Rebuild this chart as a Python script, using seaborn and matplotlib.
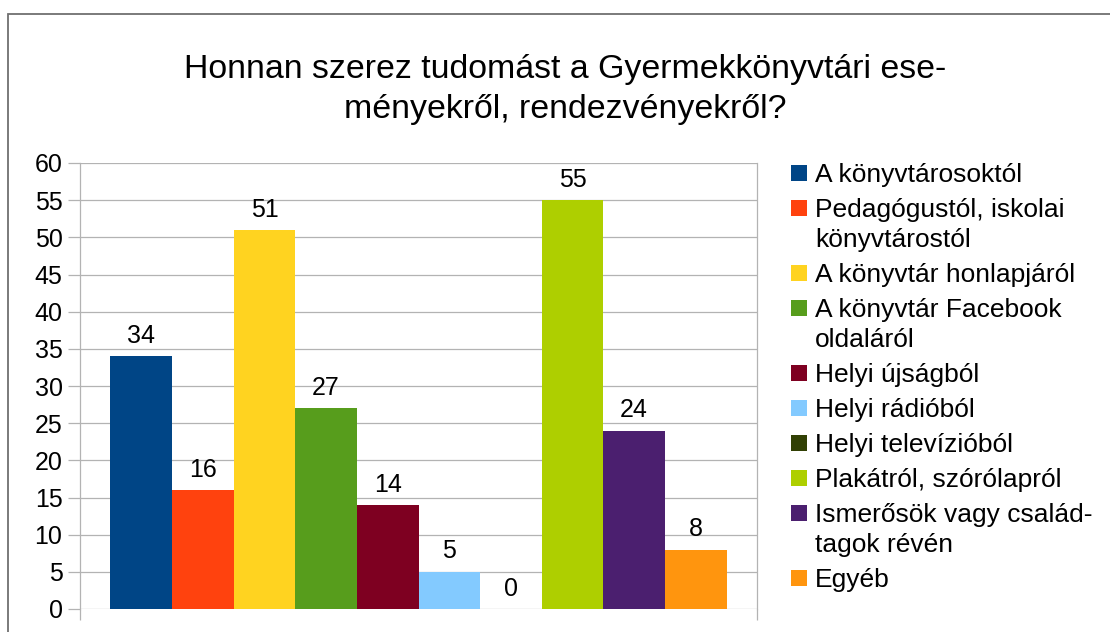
import matplotlib
matplotlib.use("Agg")
import matplotlib.pyplot as plt
import seaborn as sns
import pandas as pd
from matplotlib.patches import Rectangle

# ---- data ----
series = [
    "A könyvtárosoktól",
    "Pedagógustól, iskolai könyvtárostól",
    "A könyvtár honlapjáról",
    "A könyvtár Facebook oldaláról",
    "Helyi újságból",
    "Helyi rádióból",
    "Helyi televízióból",
    "Plakátról, szórólapról",
    "Ismerősök vagy családtagok révén",
    "Egyéb",
]
legend_labels = [
    ["A könyvtárosoktól"],
    ["Pedagógustól, iskolai", "könyvtárostól"],
    ["A könyvtár honlapjáról"],
    ["A könyvtár Facebook", "oldaláról"],
    ["Helyi újságból"],
    ["Helyi rádióból"],
    ["Helyi televízióból"],
    ["Plakátról, szórólapról"],
    ["Ismerősök vagy család-", "tagok révén"],
    ["Egyéb"],
]
values = [34, 16, 51, 27, 14, 5, 0, 55, 24, 8]
colors = ["#004586", "#ff420e", "#ffd320", "#579d1c", "#7e0021",
          "#83caff", "#314004", "#aecf00", "#4b1f6f", "#ff950e"]
title_lines = ["Honnan szerez tudomást a Gyermekkönyvtári ese-",
               "ményekről, rendezvényekről?"]
yticks = list(range(0, 61, 5))

sns.set_theme(style="white")
plt.rcParams['font.family'] = ['Liberation Sans', 'DejaVu Sans']
plt.rcParams['text.color'] = 'black'

df = pd.DataFrame({"cat": [""] * len(series), "series": series, "value": values})

W, H = 1110, 632
fig = plt.figure(figsize=(W / 100, H / 100), dpi=100)
fig.patch.set_facecolor("white")

# outer border of the chart
fig.patches.append(Rectangle((7.5 / W, -0.2), 1.2, 1.2 - 13.5 / H,
                             transform=fig.transFigure, fill=False,
                             edgecolor="#707070", linewidth=1.3, zorder=0))

ax = fig.add_axes([80 / W, 1 - 609 / H, 677 / W, 446 / H])
sns.barplot(data=df, x="cat", y="value", hue="series", hue_order=series,
            palette=colors, width=0.91, saturation=1, legend=False,
            linewidth=0, ax=ax, zorder=3)

ax.set_xlim(-0.5, 0.5)
ax.set_ylim(0, 60)
ax.set_yticks(yticks)
ax.set_xticks([-0.5, 0.5])
ax.set_xticklabels(["", ""])
ax.set_xlabel("")
ax.set_ylabel("")
ax.set_axisbelow(True)
ax.yaxis.grid(True, color="#b3b3b3", linewidth=0.9)
ax.xaxis.grid(False)
for s in ["top", "bottom"]:
    ax.spines[s].set_visible(False)
for s in ["left", "right"]:
    ax.spines[s].set_visible(True)
    ax.spines[s].set_color("#b3b3b3")
    ax.spines[s].set_linewidth(0.9)
ax.tick_params(axis="y", direction="out", length=8.6, width=0.9,
               color="#b3b3b3", labelcolor="black", labelsize=18, pad=4, left=True)
ax.tick_params(axis="x", direction="out", length=7.9, width=0.9,
               color="#b3b3b3", bottom=True)

for c in ax.containers:
    ax.bar_label(c, fontsize=18, padding=6, color="black")

# legend (square aligned with first line of each entry)
leg_fs = 19
sq = 16
y = 172.7          # centre of first legend line, px from top
for col, lines in zip(colors, legend_labels):
    fig.patches.append(Rectangle((791 / W, 1 - (y + sq / 2) / H), sq / W, sq / H,
                                 transform=fig.transFigure, facecolor=col,
                                 edgecolor="none"))
    for i, line in enumerate(lines):
        fig.text(815 / W, 1 - (y + 9.3) / H, line, ha="left", va="baseline",
                 fontsize=leg_fs, color="black")
        if i < len(lines) - 1:
            y += 30
    y += 35

fig.text(565 / W, 1 - 77.7 / H, title_lines[0], ha="center", va="baseline",
         fontsize=24.4, color="black")
fig.text(565 / W, 1 - 118 / H, title_lines[1], ha="center", va="baseline",
         fontsize=24.4, color="black")

fig.savefig("out.png", dpi=100)
